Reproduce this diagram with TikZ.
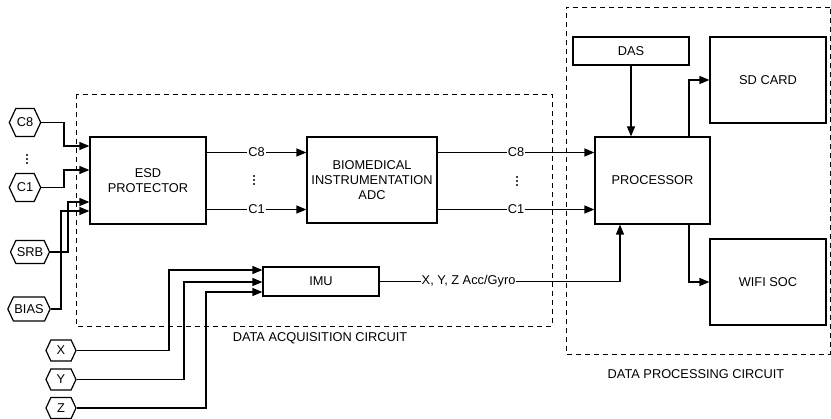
\documentclass[tikz,border=0pt]{standalone}
\usepackage{fontspec}
\setmainfont{Liberation Sans}
\usetikzlibrary{arrows.meta,shapes.symbols,calc}
\begin{document}
\begin{tikzpicture}[x=1pt,y=-1pt,
  every node/.style={font=\fontsize{12.8}{15}\selectfont},
  box/.style={draw,line width=1.2pt,align=center,inner sep=0pt},
  hex/.style={draw,line width=1.2pt,signal,signal to=west and east,signal pointer angle=130,inner xsep=1pt,inner ysep=0pt},
  arr/.style={line width=1.2pt,-{Triangle[length=10pt,width=8pt]}},
  lbl/.style={fill=white,inner sep=1pt},
  region/.style={line width=0.9pt,dash pattern=on 5pt off 4pt},
  dot/.style={fill=black}]
\useasboundingbox (0,0) rectangle (831,419);

% regions
\draw[region] (76,94) rectangle (552,326);
\draw[region] (830,7) -- (566,7) -- (566,354) -- (830,354) -- cycle;
\node (daqlbl) at (320,338) {DATA ACQUISITION CIRCUIT};
\node (dpclbl) at (696,374) {DATA PROCESSING CIRCUIT};

% boxes
\node[box,minimum width=116pt,minimum height=87pt] (esd) at (148,180.5) {ESD\\PROTECTOR};
\node[box,minimum width=130pt,minimum height=86pt] (bio) at (372,180) {BIOMEDICAL\\INSTRUMENTATION\\ADC};
\node[box,minimum width=115pt,minimum height=87pt] (proc) at (652.5,180.5) {PROCESSOR};
\node[box,minimum width=116pt,minimum height=28pt] (das) at (631,51) {DAS};
\node[box,minimum width=116pt,minimum height=86pt] (sd) at (768,80) {SD CARD};
\node[box,minimum width=116pt,minimum height=86pt] (wifi) at (768,282) {WIFI SOC};
\node[box,minimum width=116pt,minimum height=29pt] (imu) at (321,281.5) {IMU};

% hexagons
\node[hex,minimum width=28pt,minimum height=28pt] (c8) at (25,122.5) {C8};
\node[hex,minimum width=28pt,minimum height=28pt] (c1) at (25,187.5) {C1};
\node[hex,minimum width=36pt,minimum height=23pt] (srb) at (30,252) {SRB};
\node[hex,minimum width=34pt,minimum height=24pt] (bias) at (29,309) {BIAS};
\node[hex,minimum width=30pt,minimum height=21pt] (hx) at (61,350.5) {X};
\node[hex,minimum width=30pt,minimum height=21pt] (hy) at (61,379.5) {Y};
\node[hex,minimum width=30pt,minimum height=21pt] (hz) at (61,408) {Z};

% vertical ellipses
\foreach \cx/\cy in {27/159, 254/180, 517/181}
  \foreach \dy in {-4,0,4}
    \fill[dot] (\cx,\cy+\dy) circle (1.1pt);

% inputs to ESD
\coordinate (k8) at (64,146);
\coordinate (k1) at (64,170);
\coordinate (ks) at (68,202);
\coordinate (kb) at (61,211);
\draw[arr] (c8.east) -| (k8) -- (esd.west |- k8);
\draw[arr] (c1.east) -| (k1) -- (esd.west |- k1);
\draw[arr] (srb.east) -| (ks) -- (esd.west |- ks);
\draw[arr] (bias.east) -| (kb) -- (esd.west |- kb);

% ESD -> BIO
\coordinate (r8) at (0,152.5);
\coordinate (r1) at (0,209.5);
\draw[arr] (esd.east |- r8) -- node[lbl]{C8} (bio.west |- r8);
\draw[arr] (esd.east |- r1) -- node[lbl]{C1} (bio.west |- r1);

% BIO -> PROC
\draw[arr] (bio.east |- r8) -- node[lbl]{C8} (proc.west |- r8);
\draw[arr] (bio.east |- r1) -- node[lbl]{C1} (proc.west |- r1);

% DAS -> PROC
\draw[arr] (das.south) -- (proc.north -| das.south);

% PROC -> SD / WIFI
\coordinate (px) at (689,0);
\draw[arr] (proc.north -| px) |- (sd.west);
\draw[arr] (proc.south -| px) |- (wifi.west);

% IMU -> PROC
\coordinate (ic) at (620,281.5);
\draw[arr] (imu.east) -- node[lbl,pos=0.37]{X, Y, Z Acc/Gyro} (ic) -- (proc.south -| ic);

% X, Y, Z -> IMU
\coordinate (kx) at (169,270);
\coordinate (ky) at (184,282);
\coordinate (kz) at (206,292);
\draw[arr] (hx.east) -| (kx) -- (imu.west |- kx);
\draw[arr] (hy.east) -| (ky) -- (imu.west |- ky);
\draw[arr] (hz.east) -| (kz) -- (imu.west |- kz);
\end{tikzpicture}
\end{document}
